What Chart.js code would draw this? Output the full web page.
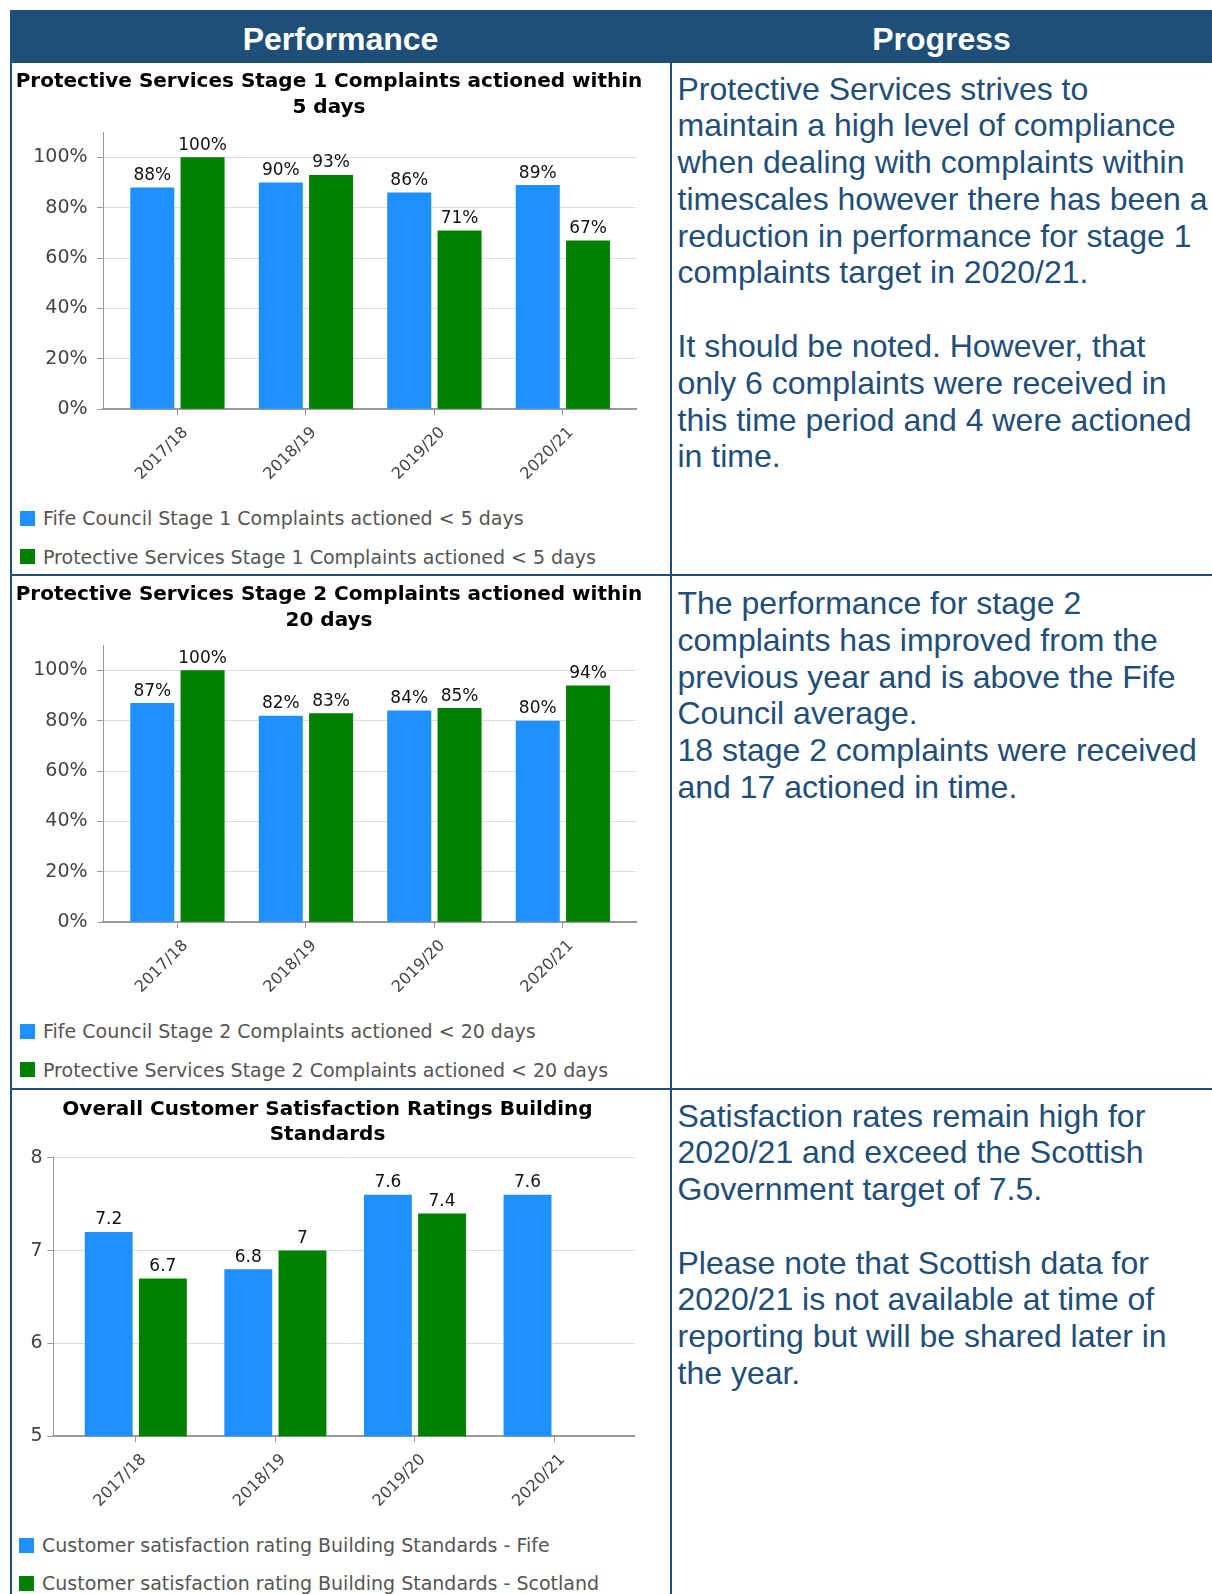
<!DOCTYPE html>
<html>
<head>
<meta charset="utf-8">
<title>Protective Services performance</title>
<script src="https://cdn.jsdelivr.net/npm/chart.js@4.4.1/dist/chart.umd.min.js"></script>
<style>
  html, body { margin: 0; padding: 0; background: #fff; }
  #page { position: relative; width: 1212px; height: 1594px; overflow: hidden; background: #fff; }
  .abs { position: absolute; }
  .hdr { background: #1f4e79; }
  .rule { background: #1f4e79; z-index: 5; }
  .hdr-text {
    position: absolute; top: 20.8px; height: 36.8px; line-height: 36.8px;
    font-family: "Liberation Sans", Arial, sans-serif; font-weight: bold; font-size: 32px;
    color: #fff; text-align: center;
  }
  .note {
    position: absolute; left: 677.5px;
    font-family: "Liberation Sans", Arial, sans-serif; font-size: 32px; line-height: 36.8px;
    color: #1f4e79; white-space: pre;
  }
  .chart { position: absolute; left: 12px; }
  .legend-row {
    position: absolute; height: 22px; display: flex; align-items: center;
    font-family: "DejaVu Sans", Verdana, sans-serif; font-size: 19px; color: #555; white-space: nowrap;
  }
  .legend-row i { display: inline-block; width: 15px; height: 15px; margin-right: 8px; }
</style>
</head>
<body>
<div id="page">
  <div class="abs hdr" style="left:10px;top:10px;width:1202px;height:53px"></div>
  <div class="hdr-text" style="left:10px;width:661px">Performance</div>
  <div class="hdr-text" style="left:671px;width:541px">Progress</div>

  <div class="abs rule" style="left:10px;top:10px;width:2px;height:1584px"></div>
  <div class="abs rule" style="left:670px;top:63px;width:2px;height:1531px"></div>
  <div class="abs rule" style="left:10px;top:574px;width:1202px;height:2px"></div>
  <div class="abs rule" style="left:10px;top:1088px;width:1202px;height:2px"></div>

  <div class="chart" style="top:65px"><canvas id="stage1" width="658" height="420"></canvas></div>
  <div class="chart" style="top:578px"><canvas id="stage2" width="658" height="420"></canvas></div>
  <div class="chart" style="top:1091px"><canvas id="building" width="658" height="421"></canvas></div>

  <div id="legend1"></div>
  <div id="legend2"></div>
  <div id="legend3"></div>

  <div class="note" style="top:70.5px">Protective Services strives to
maintain a high level of compliance
when dealing with complaints within
timescales however there has been a
reduction in performance for stage 1
complaints target in 2020/21.

It should be noted. However, that
only 6 complaints were received in
this time period and 4 were actioned
in time.</div>

  <div class="note" style="top:585px">The performance for stage 2
complaints has improved from the
previous year and is above the Fife
Council average.
18 stage 2 complaints were received
and 17 actioned in time.</div>

  <div class="note" style="top:1097.5px">Satisfaction rates remain high for
2020/21 and exceed the Scottish
Government target of 7.5.

Please note that Scottish data for
2020/21 is not available at time of
reporting but will be shared later in
the year.</div>
</div>

<script>
// reporting years along the x axis
const years = ['2017/18', '2018/19', '2019/20', '2020/21'];

// stage 1 complaints actioned within 5 days (%)
const fifeStage1 = [88, 90, 86, 89];
const protStage1 = [100, 93, 71, 67];

// stage 2 complaints actioned within 20 days (%)
const fifeStage2 = [87, 82, 84, 80];
const protStage2 = [100, 83, 85, 94];

// building standards satisfaction rating (out of 10), no Scottish figure yet for 2020/21
const bsFife = [7.2, 6.8, 7.6, 7.6];
const bsScotland = [6.7, 7, 7.4, null];

const BLUE = '#1e90ff';
const GREEN = '#008000';

Chart.defaults.font.family = '"DejaVu Sans", Verdana, sans-serif';

// value printed above each bar
const valueLabels = {
    id: 'valueLabels',
    afterDatasetsDraw(chart, args, opts) {
        const ctx = chart.ctx;
        ctx.save();
        ctx.font = '17px "DejaVu Sans", Verdana, sans-serif';
        ctx.fillStyle = '#111';
        ctx.textAlign = 'center';
        ctx.textBaseline = 'alphabetic';
        chart.data.datasets.forEach(function (ds, i) {
            chart.getDatasetMeta(i).data.forEach(function (bar, j) {
                var v = ds.data[j].y;
                if (v === null || v === undefined) return;
                ctx.fillText(v + opts.suffix, bar.x, bar.y - 7.5);
            });
        });
        ctx.restore();
    }
};

function points(values) {
    return values.map(function (v, i) { return { x: i, y: v }; });
}

function buildChart(id, s) {
    var ctx = document.getElementById(id).getContext('2d');
    return new Chart(ctx, {
        type: 'bar',
        data: {
            datasets: [
                { label: s.labels[0], data: points(s.series[0]), backgroundColor: BLUE,
                  categoryPercentage: s.catPct, barPercentage: s.barPct },
                { label: s.labels[1], data: points(s.series[1]), backgroundColor: GREEN,
                  categoryPercentage: s.catPct, barPercentage: s.barPct }
            ]
        },
        options: {
            responsive: false,
            animation: false,
            layout: { padding: { left: 0, top: 0, right: s.padRight, bottom: 0 } },
            plugins: {
                legend: { display: false },
                tooltip: { enabled: false },
                title: {
                    display: true,
                    text: s.title,
                    color: '#000',
                    font: { size: 20, weight: 'bold', lineHeight: s.titleLine / 20 },
                    padding: { top: s.titleTop, bottom: s.titleBottom }
                },
                valueLabels: { suffix: s.suffix }
            },
            scales: {
                x: {
                    type: 'linear',
                    min: s.xMin,
                    max: s.xMax,
                    offset: false,
                    afterBuildTicks: function (scale) {
                        scale.ticks = years.map(function (y, i) { return { value: i }; });
                    },
                    afterFit: function (scale) { scale.height = s.xHeight; },
                    grid: { drawOnChartArea: false, offset: false, tickLength: 6, color: '#999' },
                    border: { color: '#9a9a9a', width: 2 },
                    ticks: {
                        autoSkip: false, minRotation: 45, maxRotation: 45,
                        padding: 8, labelOffset: 8,
                        color: '#444', font: { size: 16 },
                        callback: function (v) { return years[v]; }
                    }
                },
                y: {
                    min: s.yMin,
                    max: s.yMax,
                    afterFit: function (scale) { scale.width = s.yWidth; },
                    grid: { color: '#dedede', tickColor: '#999', tickLength: 6 },
                    border: { color: '#9a9a9a', width: 1 },
                    ticks: {
                        stepSize: s.yStep, padding: s.yPad, includeBounds: false,
                        color: '#444', font: { size: 19 },
                        callback: function (v) { return v + s.suffix; }
                    }
                },
                // empty strip on the right so the plot stops short of the title's width
                gutter: {
                    type: 'linear',
                    position: 'right',
                    grid: { display: false },
                    border: { display: false },
                    ticks: { display: false },
                    afterFit: function (scale) { scale.width = s.gutter; }
                }
            }
        },
        plugins: [valueLabels]
    });
}

function buildLegend(id, labels, rows, left) {
    var box = document.getElementById(id);
    [BLUE, GREEN].forEach(function (colour, i) {
        var row = document.createElement('div');
        row.className = 'legend-row';
        row.style.top = (rows[i] - 11) + 'px';
        row.style.left = left + 'px';
        row.innerHTML = '<i style="background:' + colour + '"></i>';
        row.appendChild(document.createTextNode(labels[i]));
        box.appendChild(row);
    });
}

const pctAxis = {
    yMin: 0, yMax: 110, yStep: 20, yWidth: 91.3, yPad: 9.7, suffix: '%',
    xMin: -0.577, xMax: 3.569, xHeight: 75.7, padRight: 24, gutter: 10,
    titleLine: 26.5, titleTop: 3.25, titleBottom: 10.85,
    catPct: 0.783, barPct: 0.875
};

const stage1Labels = ['Fife Council Stage 1 Complaints actioned < 5 days',
    'Protective Services Stage 1 Complaints actioned < 5 days'];
const stage2Labels = ['Fife Council Stage 2 Complaints actioned < 20 days',
    'Protective Services Stage 2 Complaints actioned < 20 days'];
const buildingLabels = ['Customer satisfaction rating Building Standards - Fife',
    'Customer satisfaction rating Building Standards - Scotland'];

buildChart('stage1', Object.assign({}, pctAxis, {
    title: ['Protective Services Stage 1 Complaints actioned within', '5 days'],
    labels: stage1Labels,
    series: [fifeStage1, protStage1]
}));

buildChart('stage2', Object.assign({}, pctAxis, {
    title: ['Protective Services Stage 2 Complaints actioned within', '20 days'],
    labels: stage2Labels,
    series: [fifeStage2, protStage2]
}));

buildChart('building', {
    yMin: 5, yMax: 8, yStep: 1, yWidth: 41.4, yPad: 4.7, suffix: '',
    xMin: -0.59, xMax: 3.573, xHeight: 75.7, padRight: 27, gutter: 8.4,
    titleLine: 25, titleTop: 6.3, titleBottom: 10.4,
    catPct: 0.776, barPct: 0.884,
    title: ['Overall Customer Satisfaction Ratings Building', 'Standards'],
    labels: buildingLabels,
    series: [bsFife, bsScotland]
});

buildLegend('legend1', stage1Labels, [518, 556.5], 20);
buildLegend('legend2', stage2Labels, [1031, 1069.5], 20);
buildLegend('legend3', buildingLabels, [1545, 1583.3], 19);
</script>
</body>
</html>
